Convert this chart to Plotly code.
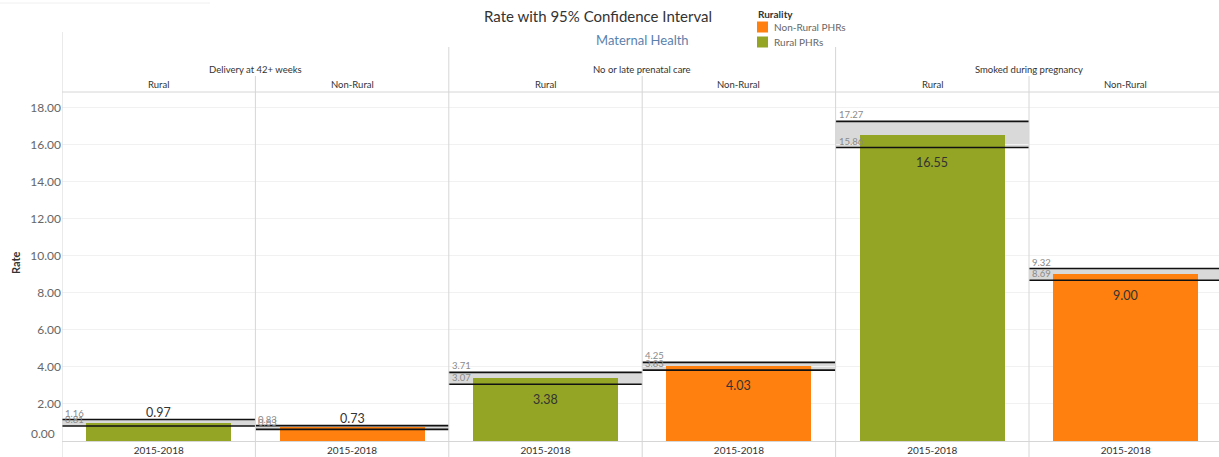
import plotly.graph_objects as go

# Maternal health indicators, 2015-2018, by rurality
measures = ["Delivery at 42+ weeks", "No or late prenatal care", "Smoked during pregnancy"]
rurality = ["Rural", "Non-Rural"]
period = "2015-2018"
rates = [0.97, 0.73, 3.38, 4.03, 16.55, 9.00]
ci_lower = [0.81, 0.63, 3.07, 3.83, 15.86, 8.69]
ci_upper = [1.16, 0.83, 3.71, 4.25, 17.27, 9.32]
y_ticks = [2, 4, 6, 8, 10, 12, 14, 16, 18]
legend_items = [("Non-Rural PHRs", "Non-Rural"), ("Rural PHRs", "Rural")]

GREEN = "#94a526"
ORANGE = "#ff800e"
COLORS = {"Rural": GREEN, "Non-Rural": ORANGE}
BAND = "#d9d9d9"
DIVIDER = "#d6d6d6"
FONT = "Lato, 'Open Sans', sans-serif"

W, H = 1219, 457
L, T, B = 62, 92, 16
plot_w = W - L
plot_h = H - T - B
panel_px = 193.4
y_max = 18.86


def xp(px):
    return (px - L) / plot_w


def yp(py):
    return (H - B - py) / plot_h


n = len(rates)
xs = list(range(n))
group_of = [rurality[i % 2] for i in xs]

fig = go.Figure()
for name, key in legend_items:
    idx = [i for i in xs if group_of[i] == key]
    fig.add_trace(go.Bar(
        x=idx, y=[rates[i] for i in idx], name=name,
        marker=dict(color=COLORS[key], line=dict(width=0)),
        width=0.75, hoverinfo="y", showlegend=False,
    ))

shapes = []
annotations = []
px_per_unit = plot_h / y_max
for i in xs:
    # confidence interval band and its bounds
    shapes.append(dict(type="rect", xref="x", yref="y", x0=i - 0.5, x1=i + 0.5,
                       y0=ci_lower[i], y1=ci_upper[i], fillcolor=BAND,
                       line=dict(width=0), layer="below"))
    for v in (ci_lower[i], ci_upper[i]):
        shapes.append(dict(type="line", xref="x", yref="y", x0=i - 0.5, x1=i + 0.5,
                           y0=v, y1=v, line=dict(color="#111111", width=1.6), layer="above"))
        annotations.append(dict(x=i - 0.5, y=v, xref="x", yref="y", text=f"{v:.2f}",
                                showarrow=False, xanchor="left", yanchor="bottom",
                                xshift=1, yshift=-1,
                                font=dict(size=9.5, color="#8a8a8a", family=FONT)))
    # value label: inside the bar when it is tall enough, otherwise above the interval
    if rates[i] * px_per_unit > 40:
        annotations.append(dict(x=i, y=ci_lower[i], xref="x", yref="y",
                                text=f"{rates[i]:.2f}", showarrow=False,
                                yanchor="middle", yshift=-15,
                                font=dict(size=12.5, color="#333333", family=FONT)))
    else:
        annotations.append(dict(x=i, y=ci_upper[i], xref="x", yref="y",
                                text=f"{rates[i]:.2f}", showarrow=False,
                                yanchor="middle", yshift=7,
                                font=dict(size=12.5, color="#333333", family=FONT)))

# panel dividers and header frame
for k in range(n + 1):
    xv = k - 0.5
    if k == 0:
        top = 32
    elif k % 2 == 0:
        top = 47
    else:
        top = 76
    shapes.append(dict(type="line", xref="x", yref="paper", x0=xv, x1=xv,
                       y0=yp(H), y1=yp(top), line=dict(color=DIVIDER, width=1)))
shapes.append(dict(type="line", xref="paper", yref="paper", x0=0, x1=1, y0=1, y1=1,
                   line=dict(color=DIVIDER, width=1)))
shapes.append(dict(type="line", xref="paper", yref="paper", x0=xp(0), x1=xp(210),
                   y0=yp(3), y1=yp(3), line=dict(color="#f0f0f0", width=1)))

# column headers
for m, name in enumerate(measures):
    annotations.append(dict(x=2 * m + 0.5, y=yp(70), xref="x", yref="paper", text=name,
                            showarrow=False, yanchor="middle",
                            font=dict(size=9.5, color="#333333", family=FONT)))
for i in xs:
    annotations.append(dict(x=i, y=yp(84), xref="x", yref="paper", text=group_of[i],
                            showarrow=False, yanchor="middle",
                            font=dict(size=9.5, color="#333333", family=FONT)))

# colour legend
annotations.append(dict(x=xp(756), y=yp(14), xref="paper", yref="paper",
                        text="<b>Rurality</b>", showarrow=False, xanchor="left",
                        yanchor="middle", font=dict(size=10, color="#333333", family=FONT)))
for r, (name, key) in enumerate(legend_items):
    cy = 27 + 15 * r
    shapes.append(dict(type="rect", xref="paper", yref="paper",
                       x0=xp(757), x1=xp(768), y0=yp(cy + 5.5), y1=yp(cy - 5.5),
                       fillcolor=COLORS[key], line=dict(width=0)))
    annotations.append(dict(x=xp(772), y=yp(cy), xref="paper", yref="paper", text=name,
                            showarrow=False, xanchor="left", yanchor="middle",
                            font=dict(size=10, color="#666666", family=FONT)))

# titles
annotations.append(dict(x=xp(598), y=yp(16), xref="paper", yref="paper",
                        text="Rate with 95% Confidence Interval", showarrow=False,
                        xanchor="center", yanchor="middle",
                        font=dict(size=15, color="#333333", family=FONT)))
annotations.append(dict(x=xp(642), y=yp(40), xref="paper", yref="paper",
                        text="Maternal Health", showarrow=False, xanchor="center",
                        yanchor="middle", font=dict(size=13, color="#5b82ad", family=FONT)))
annotations.append(dict(x=xp(15), y=yp(263), xref="paper", yref="paper", text="<b>Rate</b>",
                        showarrow=False, textangle=-90, xanchor="center", yanchor="middle",
                        font=dict(size=11, color="#333333", family=FONT)))
# zero tick label, lifted to stay inside the pane
annotations.append(dict(x=0, y=0, xref="paper", yref="y", text="0.00", showarrow=False,
                        xanchor="right", yanchor="middle", xshift=-5, yshift=8,
                        font=dict(size=12, color="#666666", family=FONT)))

fig.update_layout(
    width=W, height=H,
    margin=dict(l=L, r=0, t=T, b=B),
    paper_bgcolor="white", plot_bgcolor="white",
    bargap=0, barmode="overlay",
    font=dict(family=FONT),
    shapes=shapes, annotations=annotations,
    showlegend=False,
    xaxis=dict(range=[-0.5, -0.5 + plot_w / panel_px], tickvals=xs,
               ticktext=[period] * n, showgrid=False, zeroline=False,
               showline=True, linecolor=DIVIDER, ticks="",
               tickfont=dict(size=10, color="#333333", family=FONT), fixedrange=True),
    yaxis=dict(range=[0, y_max], tickvals=y_ticks, ticktext=[f"{v:.2f}" for v in y_ticks],
               showgrid=True, gridcolor="#f1f1f1", zeroline=False, ticks="",
               tickfont=dict(size=12, color="#666666", family=FONT), fixedrange=True),
)

fig.write_html("out.html")
